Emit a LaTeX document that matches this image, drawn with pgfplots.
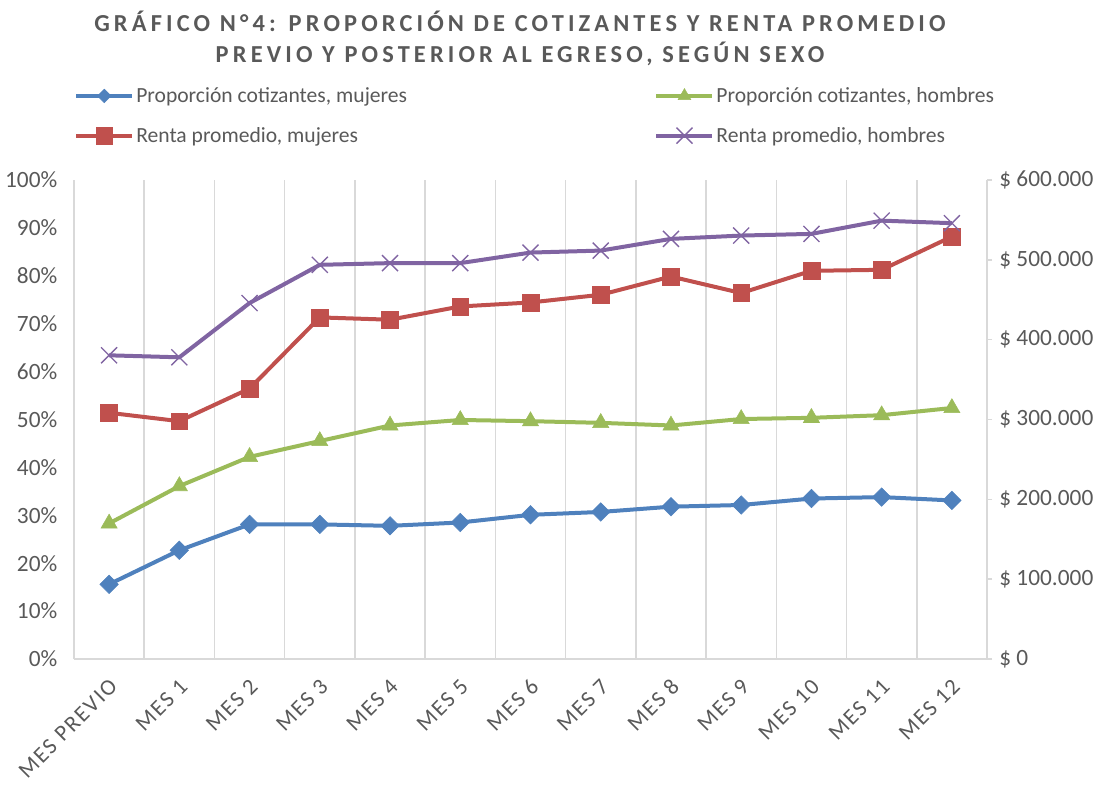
\documentclass[border=0pt]{standalone}
\usepackage{pgfplots}
\pgfplotsset{compat=1.18}
\usepackage{fontspec}
\setmainfont{Carlito}
\newfontfamily\titlefont[LetterSpace=17]{Carlito}
\newfontfamily\spacedfont[LetterSpace=8]{Carlito}
\definecolor{cblue}{HTML}{4F81BD}
\definecolor{cred}{HTML}{C0504D}
\definecolor{cgreen}{HTML}{9BBB59}
\definecolor{cpurple}{HTML}{8064A2}
\definecolor{gridgray}{HTML}{D9D9D9}
\definecolor{txtgray}{HTML}{595959}
\pgfplotsset{
  bluestyle/.style={cblue, line width=3pt, mark=square*, mark size=4.9pt, mark options={rotate=45, solid, line width=0.4pt}},
  greenstyle/.style={cgreen, line width=3pt, mark=triangle*, mark size=7pt, mark options={solid, line width=0.4pt}},
  redstyle/.style={cred, line width=3pt, mark=square*, mark size=6.3pt, mark options={solid, line width=0.4pt}},
  purplestyle/.style={cpurple, line width=3pt, mark=x, mark size=8.5pt, mark options={solid, line width=1pt}},
}
\begin{document}
\begin{tikzpicture}
\begin{axis}[
  scale only axis, width=684.75pt, height=359.25pt,
  xmin=-0.5, xmax=12.5, ymin=0, ymax=100,
  axis x line*=bottom, axis y line*=left,
  axis line style={draw=gridgray, line width=1.1pt, -},
  xtick={0,...,12},
  xticklabels={MES PREVIO, MES 1, MES 2, MES 3, MES 4, MES 5, MES 6, MES 7, MES 8, MES 9, MES 10, MES 11, MES 12},
  minor xtick={0.5,1.5,...,11.5},
  xminorgrids, minor x grid style={draw=gridgray, line width=1.1pt},
  ytick={0,10,...,100},
  yticklabel={\pgfmathprintnumber[assume math mode=true]{\tick}\%},
  major tick length=0pt, minor tick length=0pt,
  tick style={draw=none},
  yticklabel style={font=\fontsize{17.5}{20}\selectfont, text=txtgray, xshift=-9pt},
  xticklabel style={font=\spacedfont\fontsize{17}{20}\selectfont, text=txtgray, xshift=4pt, yshift=-17pt, rotate=45, anchor=east, inner sep=1pt},
  clip=false,
]
\addplot[bluestyle] coordinates {(0,15.6) (1,22.7) (2,28.1) (3,28.1) (4,27.8) (5,28.5) (6,30.1) (7,30.7) (8,31.8) (9,32.15) (10,33.5) (11,33.8) (12,33.1)};
\addplot[greenstyle] coordinates {(0,28.3) (1,36.1) (2,42.2) (3,45.5) (4,48.75) (5,49.9) (6,49.65) (7,49.3) (8,48.75) (9,50.1) (10,50.35) (11,50.9) (12,52.4)};
\end{axis}
\begin{axis}[
  scale only axis, width=684.75pt, height=359.25pt,
  xmin=-0.5, xmax=12.5, ymin=0, ymax=600000,
  axis x line=none, axis y line*=right,
  axis line style={draw=gridgray, line width=1.1pt, -},
  ytick={0,100000,200000,300000,400000,500000,600000},
  scaled y ticks=false,
  yticklabel={\$ \pgfmathprintnumber[assume math mode=true, fixed, 1000 sep={.}]{\tick}},
  ytick style={draw=gridgray, line width=1.1pt},
  tick align=outside, major tick length=3.75pt,
  yticklabel style={font=\fontsize{17.5}{20}\selectfont, text=txtgray, xshift=2pt},
  clip=false,
  legend columns=2,
  legend cell align=left,
  legend style={draw=none, fill=none, at={(axis description cs:0,1.198)}, anchor=north west, inner sep=0pt,
    font=\fontsize{16.2}{19}\selectfont, text=txtgray, row sep=14pt,
    nodes={inner sep=1.5pt},
    /tikz/every even column/.append style={column sep=184pt}},
  legend image code/.code={\draw[mark repeat=2,mark phase=2] plot coordinates {(0pt,0pt) (21pt,0pt) (42pt,0pt)};},
]
\addlegendimage{bluestyle, mark size=3.6pt}
\addlegendentry{Proporción cotizantes, mujeres}
\addlegendimage{greenstyle, mark size=5.5pt}
\addlegendentry{Proporción cotizantes, hombres}
\addplot[redstyle] coordinates {(0,308400) (1,297900) (2,338750) (3,427900) (4,425000) (5,441600) (6,446600) (7,456250) (8,479100) (9,458400) (10,486250) (11,487500) (12,529100)};
\addlegendentry{Renta promedio, mujeres}
\addplot[purplestyle] coordinates {(0,380400) (1,377900) (2,445900) (3,493750) (4,495900) (5,495900) (6,509100) (7,511600) (8,526250) (9,530400) (10,532500) (11,549100) (12,545900)};
\addlegendentry{Renta promedio, hombres}
\end{axis}
\node[anchor=north, align=center, text=txtgray, font=\titlefont\bfseries\fontsize{18.3}{23.25}\selectfont] at (334.5pt,489.75pt) {GRÁFICO N°4: PROPORCIÓN DE COTIZANTES Y RENTA PROMEDIO\\PREVIO Y POSTERIOR AL EGRESO, SEGÚN SEXO};
\pgfresetboundingbox
\path[use as bounding box] (-55.5pt,-100.5pt) rectangle (772.5pt,494.25pt);
\end{tikzpicture}
\end{document}
